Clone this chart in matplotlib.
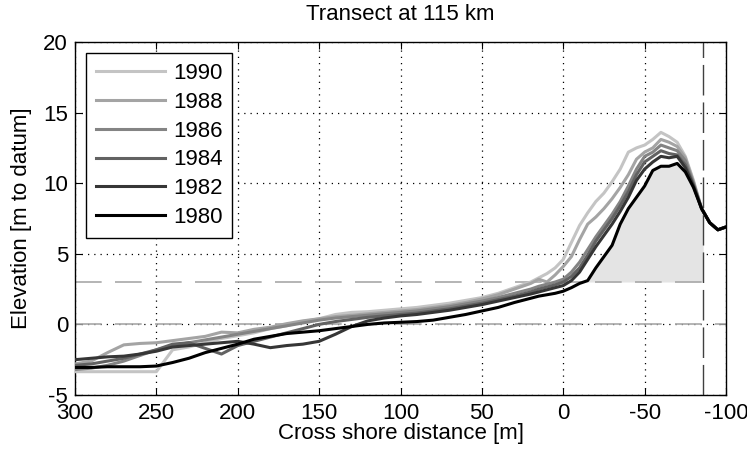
import matplotlib.pyplot as plt
import numpy as np

plt.rcParams['font.family'] = ['Liberation Sans', 'DejaVu Sans']
plt.rcParams['axes.unicode_minus'] = False

# cross shore positions [m]
dist = [300, 290, 280, 270, 260, 250, 240, 230, 220, 210, 200, 190, 180, 170, 160,
        150, 140, 130, 120, 110, 100, 90, 80, 70, 60, 50, 40, 30, 20,
        15, 10, 5, 0, -5, -10, -15, -20, -25, -30, -35, -40, -45, -50, -55, -60,
        -65, -70, -75, -80, -85, -90, -95, -100]

years = ['1990', '1988', '1986', '1984', '1982', '1980']

z1990 = [-3.35, -3.35, -3.35, -3.35, -3.35, -3.35, -1.8, -1.6, -1.3, -1.0, -0.8, -0.6, -0.3, -0.1, 0.2,
         0.4, 0.7, 0.85, 0.9, 1.0, 1.1, 1.2, 1.35, 1.5, 1.7, 1.9, 2.2, 2.6, 3.0,
         3.3, 3.6, 4.0, 4.6, 5.8, 7.0, 7.9, 8.7, 9.3, 10.1, 11.0, 12.2, 12.5, 12.7, 13.1, 13.6,
         13.3, 12.9, 11.9, 10.2, 8.2, 7.2, 6.7, 6.9]
z1988 = [-2.8, -2.6, -2.0, -1.45, -1.35, -1.3, -1.15, -1.0, -0.85, -0.55, -0.6, -0.35, -0.2, 0.05, 0.25,
         0.4, 0.55, 0.65, 0.75, 0.85, 0.95, 1.05, 1.2, 1.35, 1.55, 1.8, 2.1, 2.5, 2.9,
         3.2, 3.0, 3.5, 4.1, 4.8, 6.0, 7.1, 7.6, 8.2, 8.9, 9.7, 10.6, 11.7, 12.2, 12.5, 13.1,
         12.9, 12.6, 11.8, 10.1, 8.2, 7.2, 6.7, 6.9]
z1986 = [-3.2, -3.1, -2.9, -2.6, -2.2, -1.8, -1.5, -1.3, -1.1, -0.9, -0.7, -0.5, -0.3, -0.1, 0.1,
         0.3, 0.45, 0.55, 0.65, 0.75, 0.85, 0.95, 1.1, 1.25, 1.45, 1.65, 1.9, 2.2, 2.5,
         2.7, 2.85, 3.0, 3.2, 3.7, 4.4, 5.3, 6.2, 7.0, 7.8, 8.7, 9.8, 11.0, 11.9, 12.2, 12.7,
         12.5, 12.3, 11.6, 10.0, 8.2, 7.2, 6.7, 6.9]
z1984 = [-2.9, -2.8, -2.6, -2.4, -2.1, -1.8, -1.4, -1.3, -1.7, -2.1, -1.5, -1.2, -0.9, -0.6, -0.3,
         0.0, 0.2, 0.35, 0.5, 0.6, 0.7, 0.8, 0.95, 1.1, 1.3, 1.5, 1.75, 2.0, 2.3,
         2.5, 2.65, 2.8, 3.0, 3.4, 4.0, 4.9, 5.9, 6.7, 7.5, 8.4, 9.4, 10.6, 11.5, 11.9, 12.3,
         12.1, 12.0, 11.3, 9.9, 8.2, 7.2, 6.7, 6.9]
z1982 = [-2.5, -2.4, -2.3, -2.25, -2.1, -1.9, -1.6, -1.5, -1.4, -1.3, -1.2, -1.4, -1.65, -1.5, -1.4,
         -1.2, -0.7, -0.15, 0.25, 0.45, 0.6, 0.7, 0.85, 1.0, 1.2, 1.4, 1.65, 1.9, 2.15,
         2.3, 2.45, 2.6, 2.75, 3.1, 3.7, 4.6, 5.5, 6.3, 7.1, 8.0, 9.0, 10.2, 11.0, 11.5, 11.9,
         11.8, 11.9, 11.1, 9.8, 8.2, 7.2, 6.7, 6.9]
z1980 = [-3.05, -3.05, -3.0, -3.0, -3.0, -2.95, -2.7, -2.4, -2.0, -1.7, -1.4, -1.05, -0.85, -0.65, -0.55,
         -0.45, -0.3, -0.15, 0.0, 0.1, 0.15, 0.2, 0.3, 0.5, 0.7, 0.95, 1.2, 1.55, 1.85,
         2.0, 2.1, 2.2, 2.35, 2.6, 2.9, 3.1, 4.0, 4.8, 5.6, 7.1, 8.2, 9.0, 9.8, 10.9, 11.2,
         11.2, 11.4, 10.8, 9.7, 8.2, 7.2, 6.7, 6.9]

profiles = [z1990, z1988, z1986, z1984, z1982, z1980]
colors = ['#c4c4c4', '#a4a4a4', '#848484', '#626262', '#363636', '#000000']

dune_level = 3.0      # dune foot level [m]
landward_limit = -86  # landward boundary [m]

fig = plt.figure(figsize=(7.47, 4.54), dpi=100)
ax = fig.add_axes([0.1004, 0.13, 0.8715, 0.7775])

# dune volume above the dune foot for the first survey
xd = np.linspace(0, -100, 1001)
zd = np.interp(xd, dist[::-1], z1980[::-1])
ax.fill_between(xd, dune_level, zd, where=(xd >= landward_limit) & (zd >= dune_level),
                color='#e4e4e4', linewidth=0, zorder=1)

ax.plot([300, -93], [dune_level, dune_level], color='#a8a8a8', lw=1.2,
        dashes=(16, 8), zorder=2)
ax.plot([300, -100], [0, 0], color='#a8a8a8', lw=1.2, dashes=(16, 8), zorder=2)
ax.plot([landward_limit, landward_limit], [-5, 20], color='#404040', lw=1.0,
        dashes=(22, 5), zorder=2)

for z, c, yr in zip(profiles, colors, years):
    ax.plot(dist, z, color=c, lw=2.2, label=yr, zorder=3)

ax.set_xlim(300, -100)
ax.set_ylim(-5, 20)
ax.set_xticks([300, 250, 200, 150, 100, 50, 0, -50, -100])
ax.set_yticks([-5, 0, 5, 10, 15, 20])
ax.grid(True, color='black', linestyle=(0, (1, 4)), linewidth=0.9)
ax.set_axisbelow(True)
ax.tick_params(direction='in', top=True, right=True, labelsize=16, length=5)
ax.tick_params(axis='x', pad=6)
ax.tick_params(axis='y', pad=5)
for s in ax.spines.values():
    s.set_linewidth(1.0)

ax.set_xlabel('Cross shore distance [m]', fontsize=16, labelpad=-1)
ax.set_ylabel('Elevation [m to datum]', fontsize=16, labelpad=8)
ax.set_title('Transect at 115 km', fontsize=16, pad=16)

leg = ax.legend(loc='upper left', fontsize=16, handlelength=3.1, handletextpad=0.36,
                labelspacing=0.35, borderpad=0.45, borderaxespad=0.5,
                fancybox=False, framealpha=1, edgecolor='black')
leg.get_frame().set_linewidth(1.0)

fig.savefig('out.png', dpi=100)
